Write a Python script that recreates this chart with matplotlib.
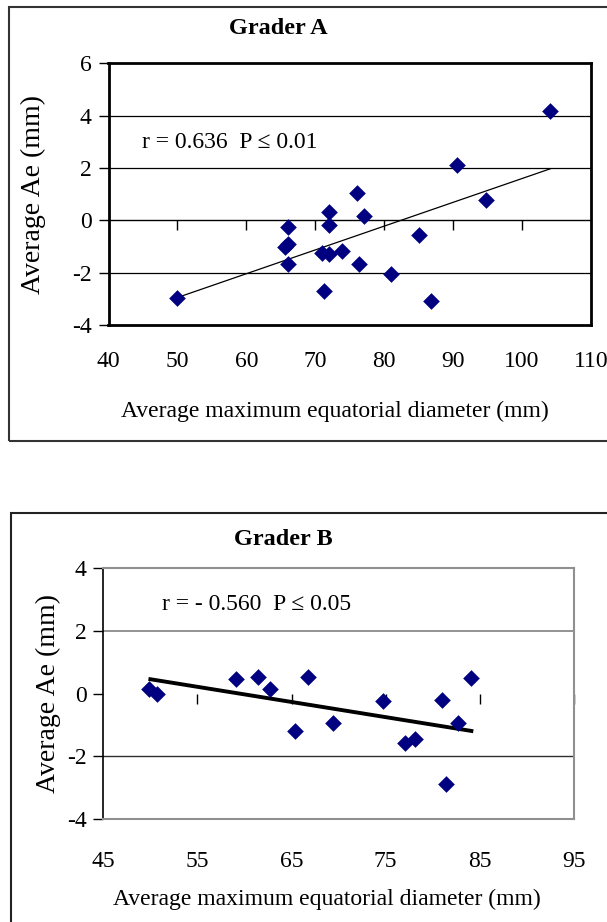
import matplotlib
matplotlib.use("Agg")
import matplotlib.pyplot as plt
from matplotlib.patches import Rectangle

plt.rcParams['font.family'] = ['Liberation Serif', 'DejaVu Serif']

# ---- Grader A data ----
a_x = [50.0, 104.1, 90.5, 94.8, 76.1, 72.0, 77.0, 72.0, 66.0, 85.0,
       66.0, 65.6, 71.0, 72.0, 73.9, 66.0, 76.4, 81.0, 71.2, 86.8]
a_y = [-2.95, 4.19, 2.13, 0.79, 1.03, 0.32, 0.15, -0.17, -0.24, -0.56,
       -0.92, -1.03, -1.26, -1.29, -1.18, -1.67, -1.67, -2.06, -2.70, -3.10]
a_trend_x = [50.0, 104.1]
a_trend_y = [-2.95, 1.97]
a_xticks = [40, 50, 60, 70, 80, 90, 100, 110]
a_yticks = [-4, -2, 0, 2, 4, 6]

# ---- Grader B data ----
b_x = [49.9, 50.7, 59.1, 61.4, 62.7, 66.7, 65.4, 69.4, 74.7, 77.0,
       78.1, 81.0, 82.7, 81.4, 84.1]
b_y = [0.16, 0.0, 0.46, 0.52, 0.14, 0.52, -1.19, -0.93, -0.24, -1.56,
       -1.45, -0.19, -0.93, -2.89, 0.51]
b_trend_x = [50.0, 84.1]
b_trend_y = [0.46, -1.19]
b_xticks = [45, 55, 65, 75, 85, 95]
b_yticks = [-4, -2, 0, 2, 4]

W, H = 607, 922
fig = plt.figure(figsize=(W / 100, H / 100), dpi=100)

def fx(px):
    return px / W

def fy(py):
    return 1 - py / H

# outer frames
fig.patches.append(Rectangle((fx(9), fy(441)), fx(700) - fx(9), fy(7.5) - fy(441),
                             transform=fig.transFigure, fill=False,
                             edgecolor='#333333', linewidth=1.5))
fig.patches.append(Rectangle((fx(11), fy(1000)), fx(700) - fx(11), fy(513) - fy(1000),
                             transform=fig.transFigure, fill=False,
                             edgecolor='#222222', linewidth=1.5))

marker_color = '#000080'
tick_fs = 17
label_fs = 17
ylabel_fs = 20
ylabel_text = 'Average Ae (mm)'

# ---------------- Top chart ----------------
axA = fig.add_axes([fx(108.5), fy(325), fx(591) - fx(108.5), fy(63.3) - fy(325)])
axA.set_xlim(40, 110)
axA.set_ylim(-4, 6)
for s in axA.spines.values():
    s.set_linewidth(2.0)
    s.set_color('black')
for yv in [4, 2, -2]:
    axA.axhline(yv, color='black', linewidth=0.9, zorder=1)
axA.set_yticks(a_yticks)
axA.set_yticklabels([str(v) for v in a_yticks], fontsize=tick_fs)
axA.tick_params(axis='y', direction='out', length=7, width=1, pad=5)
axA.set_xticks(a_xticks)
axA.set_xticklabels([str(v) for v in a_xticks], fontsize=tick_fs)
axA.tick_params(axis='x', length=0, pad=19)
secA = axA.secondary_xaxis((0 - (-4)) / 10.0)
secA.set_xticks(a_xticks[1:-1])
secA.xaxis.set_ticks_position('bottom')
secA.tick_params(axis='x', direction='out', length=7, width=1,
                 labelbottom=False, labeltop=False)
secA.spines['bottom'].set_linewidth(1.0)
axA.scatter(a_x, a_y, marker='D', s=72, color=marker_color, zorder=4, linewidths=0)
axA.plot(a_trend_x, a_trend_y, color='black', linewidth=0.9, zorder=3)
fig.text(fx(142), fy(142), 'r = 0.636  P ≤ 0.01', fontsize=17, va='center', ha='left')
axA.set_ylabel(ylabel_text, fontsize=ylabel_fs)
axA.yaxis.set_label_coords((46 - 108.5) / 482.5, 0.5)
axA.set_xlabel('Average maximum equatorial diameter (mm)', fontsize=label_fs)
axA.xaxis.set_label_coords(0.47, (325 - 401) / 261.7)
fig.text(fx(278), fy(29), 'Grader A', fontsize=17.5, fontweight='bold', ha='center', va='center')

# ---------------- Bottom chart ----------------
axB = fig.add_axes([fx(103.3), fy(819), fx(574) - fx(103.3), fy(568.3) - fy(819)])
axB.set_xlim(45, 95)
axB.set_ylim(-4, 4)
for k, s in axB.spines.items():
    s.set_linewidth(1.5)
    s.set_color('#909090')
axB.spines['left'].set_color('black')
axB.spines['left'].set_linewidth(1.2)
axB.axhline(2, color='#808080', linewidth=1.2, zorder=1)
axB.axhline(-2, color='#303030', linewidth=1.0, zorder=1)
axB.set_yticks(b_yticks)
axB.set_yticklabels([str(v) for v in b_yticks], fontsize=tick_fs)
axB.tick_params(axis='y', direction='out', length=7, width=1, pad=5)
axB.set_xticks(b_xticks)
axB.set_xticklabels([str(v) for v in b_xticks], fontsize=tick_fs)
axB.tick_params(axis='x', length=0, pad=23)
secB = axB.secondary_xaxis(0.5)
secB.set_xticks(b_xticks[1:])
secB.xaxis.set_ticks_position('bottom')
secB.tick_params(axis='x', direction='out', length=7, width=1,
                 labelbottom=False, labeltop=False)
secB.spines['bottom'].set_linewidth(1.0)
secB.spines['bottom'].set_color('#404040')
secB.spines['top'].set_visible(False)
axB.scatter(b_x, b_y, marker='D', s=72, color=marker_color, zorder=4, linewidths=0)
axB.plot(b_trend_x, b_trend_y, color='black', linewidth=2.8, zorder=3)
fig.text(fx(162), fy(604), 'r = - 0.560  P ≤ 0.05', fontsize=17, va='center', ha='left')
axB.set_ylabel(ylabel_text, fontsize=ylabel_fs)
axB.yaxis.set_label_coords((61 - 103.3) / 470.7, 0.5)
axB.set_xlabel('Average maximum equatorial diameter (mm)', fontsize=label_fs)
axB.xaxis.set_label_coords(0.475, (819 - 889) / 250.7)
fig.text(fx(283), fy(539), 'Grader B', fontsize=17.5, fontweight='bold', ha='center', va='center')

fig.savefig('out.png', dpi=100)
